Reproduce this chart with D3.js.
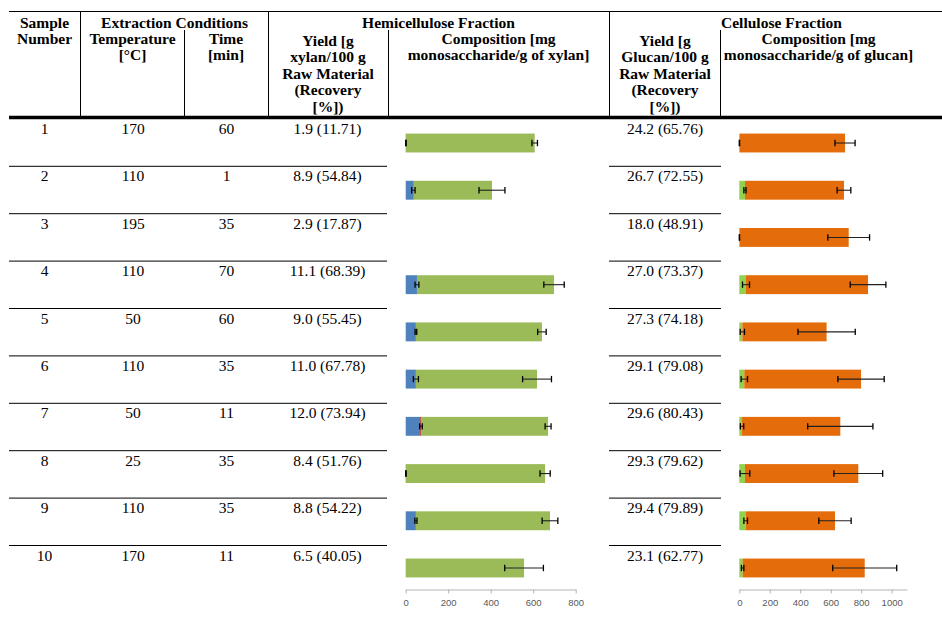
<!DOCTYPE html>
<html><head><meta charset="utf-8">
<script src="https://cdn.jsdelivr.net/npm/d3@7"></script>
<style>body{margin:0;background:#fff}svg{display:block}</style>
</head><body><svg id="c" width="942" height="623"></svg>
<script>
// ---------- data ----------
const samples = [1,2,3,4,5,6,7,8,9,10];
const temperature = [170,110,195,110,50,110,50,25,110,170];
const time = [60,1,35,70,60,35,11,35,35,11];
const hemiYield = ["1.9 (11.71)","8.9 (54.84)","2.9 (17.87)","11.1 (68.39)","9.0 (55.45)","11.0 (67.78)","12.0 (73.94)","8.4 (51.76)","8.8 (54.22)","6.5 (40.05)"];
const celluloseYield = ["24.2 (65.76)","26.7 (72.55)","18.0 (48.91)","27.0 (73.37)","27.3 (74.18)","29.1 (79.08)","29.6 (80.43)","29.3 (79.62)","29.4 (79.89)","23.1 (62.77)"];
// hemicellulose composition (mg monosaccharide / g xylan), stacked: blue, red, green
const hemiBlue     = [1,36,null,53,48,48,63,1,48,0];
const hemiBlueErr  = [1,8,null,9,4,12,0,1,5,0];
const hemiRed      = [0,3,null,0,0,0,9,0,0,0];
const hemiRedErr   = [0,0,null,0,0,0,6,0,0,0];
const hemiGreen    = [606,367,null,645,593,570,598,655,631,557];
const hemiGreenErr = [13,61,null,48,20,68,14,24,37,91];
// cellulose composition (mg monosaccharide / g glucan), stacked: green, orange
const cellGreen     = [1,37,1,44,20,33,18,37,42,22];
const cellGreenErr  = [1,7,1,23,14,21,11,32,12,8];
const cellOrange    = [693,650,717,801,553,766,645,744,586,801];
const cellOrangeErr = [66,45,137,117,188,152,214,160,106,210];
const hemiTicks = [0,200,400,600,800];
const cellTicks = [0,200,400,600,800,1000];

const groupHeaders = [
  {text:"Sample", x:44.5},
  {text:"Extraction Conditions", x:174.5},
  {text:"Hemicellulose Fraction", x:438.5},
  {text:"Cellulose Fraction", x:781.5}
];
const subHeaders = [
  {lines:["Number"], x:44.5, y:44, lh:16},
  {lines:["Temperature","[°C]"], x:132.5, y:44, lh:16},
  {lines:["Time","[min]"], x:226, y:44, lh:16},
  {lines:["Yield [g","xylan/100 g","Raw Material","(Recovery","[%])"], x:328, y:45.5, lh:16.6},
  {lines:["Composition [mg","monosaccharide/g of xylan]"], x:498.5, y:44, lh:16},
  {lines:["Yield [g","Glucan/100 g","Raw Material","(Recovery","[%])"], x:665, y:45.5, lh:16.6},
  {lines:["Composition [mg","monosaccharide/g of glucan]"], x:818.5, y:44, lh:16}
];

// ---------- drawing ----------
const svg = d3.select("#c");
const serif = "'Liberation Serif','Times New Roman',serif";
const sans = "'Liberation Sans',Arial,sans-serif";

// table rules
const lines = svg.append("g").attr("stroke","#000");
lines.append("line").attr("x1",9).attr("x2",942).attr("y1",11.5).attr("y2",11.5).attr("stroke-width",1);
[[80.5,11],[184.5,30],[268.5,11],[388.5,30],[609.5,11],[720.5,30]].forEach(([x,y0])=>{
  lines.append("line").attr("x1",x).attr("x2",x).attr("y1",y0).attr("y2",116).attr("stroke-width",1);
});
lines.append("line").attr("x1",9).attr("x2",942).attr("y1",117.5).attr("y2",117.5).attr("stroke-width",3.6);

// header text
const hg = svg.append("g").attr("font-family",serif).attr("font-weight","bold").attr("font-size","15.5px").attr("text-anchor","middle").attr("fill","#000");
groupHeaders.forEach(h=>hg.append("text").attr("x",h.x).attr("y",28).text(h.text));
subHeaders.forEach(h=>h.lines.forEach((t,i)=>hg.append("text").attr("x",h.x).attr("y",h.y+i*h.lh).text(t)));

// row layout scale
const rowTop = d3.scaleLinear().domain([1,2]).range([118.9,166.3]);
const sepY = d3.range(2,11).map(k=>rowTop(k));
sepY.forEach(y=>{
  lines.append("line").attr("x1",9).attr("x2",387).attr("y1",y).attr("y2",y).attr("stroke-width",1);
  lines.append("line").attr("x1",609).attr("x2",721).attr("y1",y).attr("y2",y).attr("stroke-width",1);
});

// row text
const tg = svg.append("g").attr("font-family",serif).attr("font-size","15.5px").attr("text-anchor","middle").attr("fill","#000");
const cols = [
  {x:44.5, vals:samples},
  {x:133, vals:temperature},
  {x:226.5, vals:time},
  {x:327.5, vals:hemiYield},
  {x:665, vals:celluloseYield}
];
cols.forEach(c=>{
  tg.selectAll(null).data(samples).enter().append("text")
    .attr("x",c.x).attr("y",d=>rowTop(d)+15).text((d,i)=>c.vals[i]);
});

// bar scales
const yBand = d3.scaleBand().domain(samples).range([119.4,591.6]).paddingInner(0.6).paddingOuter(0.3);
const hemiX = d3.scaleLinear().domain([0,800]).range([405.7,575.7]);
const cellX = d3.scaleLinear().domain([0,1100]).range([739.3,906.9]);

function drawStack(xs, keys, colors, vals, errs){
  const rows = samples.map((s,i)=>{const o={sample:s}; keys.forEach((k,j)=>o[k]=vals[j][i]); return o;})
    .filter((r,i)=>vals[0][i]!==null);
  const stacked = d3.stack().keys(keys)(rows);
  const g = svg.append("g");
  stacked.forEach((layer,j)=>{
    g.selectAll(null).data(layer).enter().append("rect")
      .attr("x",d=>xs(d[0])).attr("width",d=>Math.max(0,xs(d[1])-xs(d[0])))
      .attr("y",d=>yBand(d.data.sample)).attr("height",yBand.bandwidth())
      .attr("fill",colors[j]);
  });
  const eg = svg.append("g").attr("stroke","#000").attr("fill","none");
  stacked.forEach((layer,j)=>{
    layer.forEach(d=>{
      const i = samples.indexOf(d.data.sample);
      const e = errs[j][i];
      if(!e) return;
      const cy = yBand(d.data.sample)+yBand.bandwidth()/2;
      const x0 = xs(d[1]-e), x1 = xs(d[1]+e);
      eg.append("line").attr("x1",x0).attr("x2",x1).attr("y1",cy).attr("y2",cy).attr("stroke-width",1.1).attr("stroke","#222");
      [x0,x1].forEach(x=>eg.append("line").attr("x1",x).attr("x2",x).attr("y1",cy-3.2).attr("y2",cy+3.2).attr("stroke-width",1.3));
    });
  });
}
drawStack(hemiX, ["blue","red","green"], ["#4F81BD","#C0504D","#9BBB59"],
  [hemiBlue,hemiRed,hemiGreen],[hemiBlueErr,hemiRedErr,hemiGreenErr]);
drawStack(cellX, ["green","orange"], ["#92D050","#E46C0A"],
  [cellGreen,cellOrange],[cellGreenErr,cellOrangeErr]);

// axes
function styleAxis(g){
  g.select(".domain").attr("stroke","#b3b3b3");
  g.selectAll(".tick line").attr("stroke","#b3b3b3");
  g.selectAll(".tick text").attr("fill","#595959").attr("font-family",sans).attr("font-size","9.5px");
}
svg.append("g").attr("transform","translate(0,589.5)")
  .call(d3.axisBottom(hemiX).tickValues(hemiTicks).tickFormat(d3.format("d")).tickSize(4).tickSizeOuter(0).tickPadding(6))
  .call(styleAxis);
svg.append("g").attr("transform","translate(0,589.5)")
  .call(d3.axisBottom(cellX).tickValues(cellTicks).tickFormat(d3.format("d")).tickSize(4).tickSizeOuter(0).tickPadding(6))
  .call(styleAxis);
</script>
</body></html>
